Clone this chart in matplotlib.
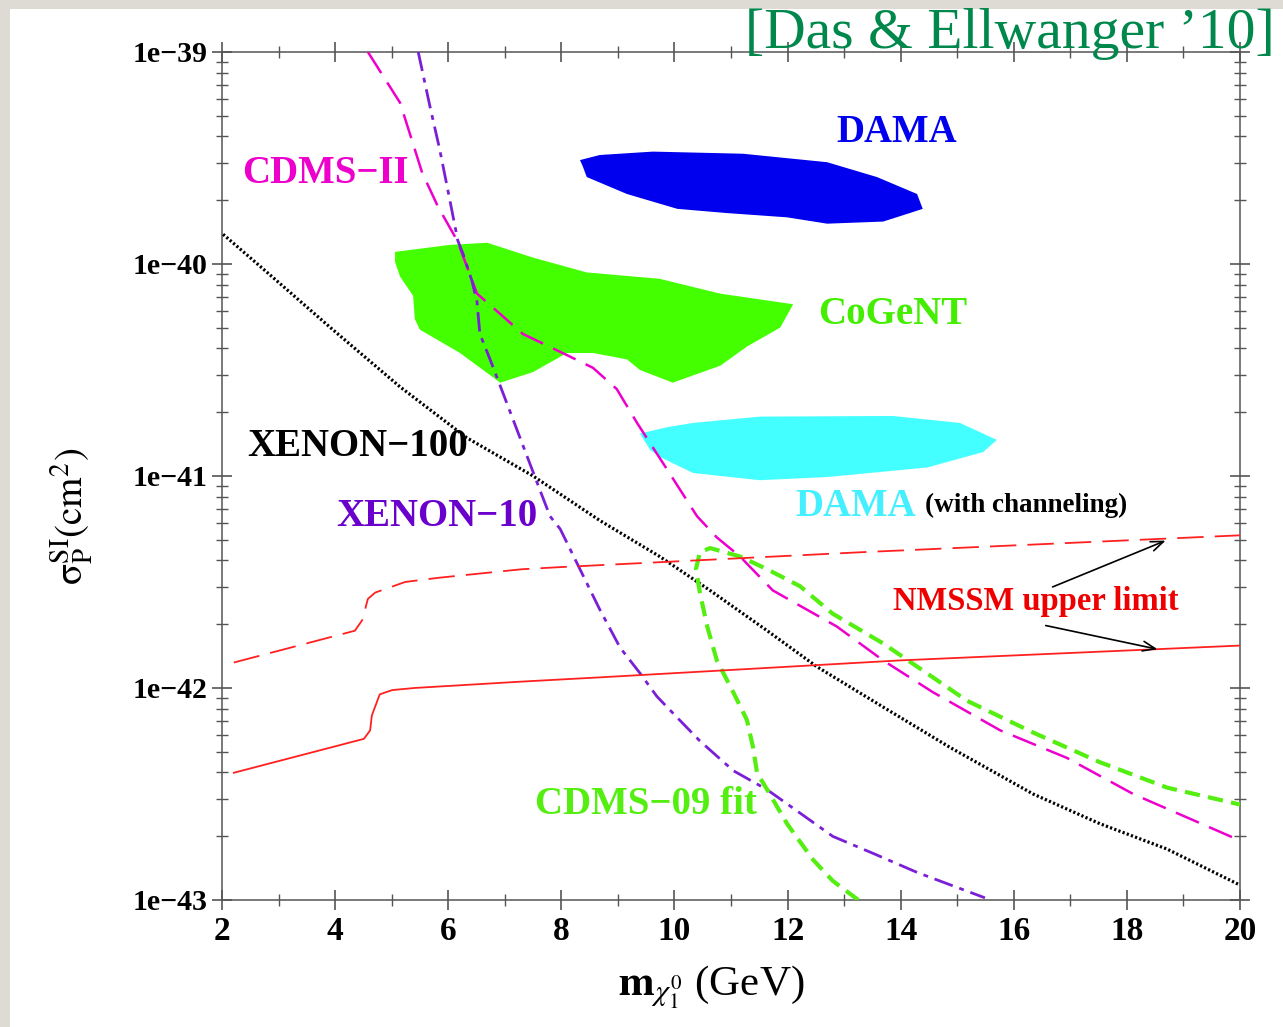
import numpy as np
import matplotlib
matplotlib.use("Agg")
import matplotlib.pyplot as plt
from matplotlib import ticker
from matplotlib.patches import Rectangle

plt.rcParams['font.family'] = ['Liberation Serif', 'DejaVu Serif']
plt.rcParams['mathtext.fontset'] = 'stix'
plt.rcParams['lines.scale_dashes'] = False

# ---- exclusion / signal curves: neutralino mass (GeV) and log10(sigma_SI / cm^2)
cdms2_m = [4.58, 5.15, 5.54, 5.82, 6.16, 6.51, 7.32, 8.10, 8.56, 8.98, 9.34, 9.92,
           10.40, 10.75, 11.16, 11.74, 12.87, 13.69, 14.57, 15.76, 16.94, 18.11, 20.0]
cdms2_log = [-39.0, -39.24, -39.57, -39.73, -39.89, -40.14, -40.33, -40.43, -40.49, -40.59,
             -40.75, -40.99, -41.19, -41.29, -41.38, -41.54, -41.71, -41.87, -42.02, -42.20,
             -42.33, -42.50, -42.72]

xenon10_m = [5.47, 5.68, 5.85, 6.03, 6.17, 6.26, 6.42, 6.51, 6.56, 6.74, 6.97, 7.27, 7.57,
             7.80, 7.98, 8.68, 9.04, 9.39, 9.69, 10.05, 10.45, 11.04, 11.64, 12.22, 12.80,
             13.51, 14.29, 15.49]
xenon10_log = [-39.0, -39.26, -39.46, -39.70, -39.89, -39.95, -40.08, -40.18, -40.33, -40.45,
               -40.61, -40.82, -41.03, -41.19, -41.25, -41.63, -41.81, -41.93, -42.04, -42.14,
               -42.25, -42.39, -42.48, -42.59, -42.70, -42.78, -42.87, -42.99]

xenon100_m = [2.02, 2.80, 3.96, 5.15, 6.33, 7.50, 8.68, 9.74, 10.63, 11.64, 12.52, 13.69,
              14.87, 16.34, 17.52, 18.71, 20.0]
xenon100_log = [-39.86, -40.04, -40.31, -40.58, -40.82, -41.00, -41.21, -41.38, -41.54,
                -41.73, -41.90, -42.09, -42.28, -42.50, -42.64, -42.76, -42.93]

cdms09_m = [13.25, 12.80, 12.45, 11.99, 11.64, 11.46, 11.39, 11.28, 11.04, 10.75, 10.58,
            10.45, 10.38, 10.45, 10.63, 11.16, 11.64, 12.22, 12.80, 13.69, 14.57, 15.17,
            16.34, 17.52, 18.71, 20.0]
cdms09_log = [-43.0, -42.91, -42.81, -42.64, -42.48, -42.40, -42.28, -42.15, -42.02, -41.87,
              -41.71, -41.55, -41.44, -41.36, -41.34, -41.38, -41.44, -41.52, -41.65, -41.79,
              -41.95, -42.06, -42.21, -42.35, -42.47, -42.55]

nmssm_dash_m = [2.21, 4.35, 4.48, 4.58, 4.71, 5.24, 5.84, 7.30, 7.98, 13.28, 20.0]
nmssm_dash_log = [-41.88, -41.73, -41.68, -41.58, -41.55, -41.50, -41.48, -41.44, -41.43,
                  -41.36, -41.28]

nmssm_solid_m = [2.21, 4.51, 4.62, 4.65, 4.79, 5.01, 5.41, 7.30, 8.68, 13.99, 20.0]
nmssm_solid_log = [-42.40, -42.24, -42.20, -42.13, -42.03, -42.01, -42.00, -41.97, -41.95,
                   -41.87, -41.80]

# ---- preferred regions (closed contours)
dama_m = [8.33, 8.68, 9.62, 11.21, 12.70, 13.58, 14.29, 14.39, 14.16, 13.69, 12.70, 11.99,
          10.93, 10.05, 9.16, 8.45, 8.38]
dama_log = [-39.51, -39.486, -39.47, -39.48, -39.52, -39.59, -39.67, -39.74, -39.76, -39.80,
            -39.81, -39.78, -39.76, -39.74, -39.67, -39.59, -39.54]

cogent_m = [5.06, 6.03, 6.69, 7.50, 8.45, 9.74, 10.81, 12.10, 11.87, 11.28, 10.81, 9.97,
            9.39, 9.16, 8.56, 8.10, 7.50, 6.92, 6.21, 5.50, 5.41, 5.38, 5.15, 5.06]
cogent_log = [-39.943, -39.91, -39.90, -39.97, -40.04, -40.07, -40.14, -40.19, -40.30,
              -40.39, -40.48, -40.56, -40.50, -40.45, -40.42, -40.42, -40.51, -40.56,
              -40.42, -40.31, -40.26, -40.15, -40.06, -39.99]

dama_ch_m = [9.39, 9.87, 10.33, 11.51, 13.86, 15.05, 15.70, 15.46, 14.47, 12.70, 11.51,
             10.33, 9.74, 9.57]
dama_ch_log = [-40.80, -40.77, -40.75, -40.72, -40.717, -40.75, -40.83, -40.887, -40.96,
               -41.005, -41.02, -40.986, -40.91, -40.877]

x_ticks = [2, 4, 6, 8, 10, 12, 14, 16, 18, 20]
y_decades = [-43, -42, -41, -40, -39]


def sig(logs):
    return 10.0 ** np.asarray(logs)


fig = plt.figure(figsize=(12.83, 10.27), dpi=100)
fig.patch.set_facecolor('#dedbd5')
fig.add_artist(Rectangle((10 / 1283, 0), 1, 1 - 9 / 1027, transform=fig.transFigure,
                         facecolor='white', edgecolor='none', zorder=-10))

ax = fig.add_axes([0.1730, 0.1237, 0.7935, 0.8257])
ax.set_yscale('log')
ax.set_xlim(2, 20)
ax.set_ylim(10.0 ** y_decades[0], 10.0 ** y_decades[-1])

# filled regions
ax.fill(dama_m, sig(dama_log), color='#0000ee', lw=0, zorder=1)
ax.fill(cogent_m, sig(cogent_log), color='#44ff00', lw=0, zorder=1)
ax.fill(dama_ch_m, sig(dama_ch_log), color='#44ffff', lw=0, zorder=1)

# limit curves
ax.plot(xenon100_m, sig(xenon100_log), color='black', lw=2.3, dashes=(1.6, 1.6), zorder=3)
ax.plot(cdms2_m, sig(cdms2_log), color='#ee00cc', lw=1.8, dashes=(18, 8), zorder=3)
ax.plot(xenon10_m, sig(xenon10_log), color='#7a1fd6', lw=2.0, dashes=(14, 5, 3.5, 5), zorder=3)
ax.plot(cdms09_m, sig(cdms09_log), color='#55ee11', lw=3.0, dashes=(11, 6), zorder=3)
ax.plot(nmssm_dash_m, sig(nmssm_dash_log), color='#ff2020', lw=1.3, dashes=(19, 8), zorder=3)
ax.plot(nmssm_solid_m, sig(nmssm_solid_log), color='#ff2020', lw=1.3, zorder=3)

# axes styling
ax.xaxis.set_major_locator(ticker.FixedLocator(x_ticks))
ax.xaxis.set_minor_locator(ticker.MultipleLocator(1))
ax.yaxis.set_major_locator(ticker.FixedLocator([10.0 ** d for d in y_decades]))
ax.yaxis.set_minor_locator(ticker.LogLocator(base=10, subs=np.arange(2, 10), numticks=20))
ax.yaxis.set_minor_formatter(ticker.NullFormatter())
ax.yaxis.set_major_formatter(ticker.FuncFormatter(
    lambda v, p: "1e\u2212%d" % (-int(round(np.log10(v))))))
ax.xaxis.set_major_formatter(ticker.FuncFormatter(lambda v, p: "%d" % v))

for s in ax.spines.values():
    s.set_color('#555555')
    s.set_linewidth(1.1)
ax.tick_params(which='both', direction='inout', top=True, right=True, color='#555555')
ax.tick_params(which='major', length=15, width=1.2)
ax.tick_params(which='minor', length=9, width=1.0)
ax.tick_params(axis='x', which='major', labelsize=24, pad=4)
ax.tick_params(axis='y', which='major', labelsize=21.5, pad=3)
for lab in ax.get_xticklabels() + ax.get_yticklabels():
    lab.set_fontweight('bold')

# axis titles
fig.text(0.554, 0.031, r'$\mathbf{m}_{\chi_1^0}$ (GeV)', ha='center', va='baseline',
         fontsize=31)
fig.text(0.056, 0.497, r'$\mathrm{\sigma}_{\rm P}^{\rm SI}({\rm cm}^2)$', ha='center',
         va='center', rotation=90, fontsize=28)

# reference tag
fig.text(0.5807, 0.953, "[Das & Ellwanger \u201910]", ha='left', va='baseline',
         fontsize=41.5, color='#00884c')

# curve labels
lab_kw = dict(transform=ax.transAxes, fontweight='bold', fontsize=28, va='center', zorder=5)
ax.text(0.663, 0.9045, "DAMA", color='#0000ee', ha='center', **lab_kw)
ax.text(0.102, 0.857, "CDMS\u2212II", color='#ee00cc', ha='center', **lab_kw)
ax.text(0.659, 0.690, "CoGeNT", color='#44ee00', ha='center', **lab_kw)
ax.text(0.1336, 0.535, "XENON\u2212100", color='black', ha='center', **lab_kw)
ax.text(0.211, 0.4517, "XENON\u221210", color='#6a00cc', ha='center', **lab_kw)
ax.text(0.563, 0.4634, "DAMA", color='#44f0ff', ha='left', **lab_kw)
ax.text(0.6906, 0.4658, "(with channeling)", color='black', ha='left', va='center',
        fontweight='bold', fontsize=19.5, transform=ax.transAxes, zorder=5)
ax.text(0.7996, 0.3514, "NMSSM upper limit", color='#ee0000', ha='center', va='center',
        fontweight='bold', fontsize=23.5, transform=ax.transAxes, zorder=5)
ax.text(0.4165, 0.112, "CDMS\u221209 fit", color='#55ee11', ha='center', **lab_kw)

# arrows from the NMSSM label to the two bounds
arrow_kw = dict(arrowstyle='->,head_length=0.9,head_width=0.35', color='black', lw=1.2)
ax.annotate("", xy=(18.73, 10.0 ** -41.30), xytext=(0.8134, 0.3679),
            textcoords='axes fraction', arrowprops=arrow_kw, zorder=5)
ax.annotate("", xy=(18.59, 10.0 ** -41.82), xytext=(0.8065, 0.3243),
            textcoords='axes fraction', arrowprops=arrow_kw, zorder=5)

fig.savefig("out.png", dpi=100, facecolor=fig.get_facecolor())
